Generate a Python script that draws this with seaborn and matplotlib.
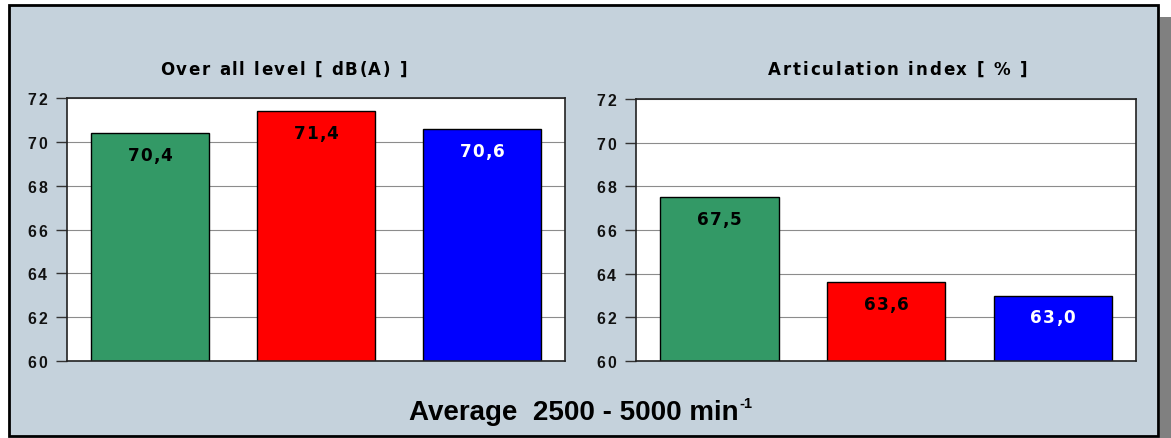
import matplotlib
matplotlib.use("Agg")
import matplotlib.pyplot as plt
from matplotlib.patches import Rectangle
import seaborn as sns
import pandas as pd

# Measured values per variant
variants = ["Variant 1", "Variant 2", "Variant 3"]
overall_level = [70.4, 71.4, 70.6]
articulation = [67.5, 63.6, 63.0]
bar_colors = ["#339966", "#FF0000", "#0000FF"]
label_colors = ["black", "black", "white"]
y_ticks = [60, 62, 64, 66, 68, 70, 72]
titles = ["Over all level [ dB(A) ]", "Articulation index [ % ]"]
footer = "Average  2500 - 5000 min"
footer_exp = "-1"

sns.set_theme(style="white")
plt.rcParams["font.family"] = ["Liberation Sans", "DejaVu Sans"]
for key in ("text.color", "axes.labelcolor", "xtick.color", "ytick.color"):
    plt.rcParams[key] = "black"

WIDE = ["DejaVu Sans"]
NARROW = ["Liberation Sans", "DejaVu Sans"]

W, H = 1171, 439
fig = plt.figure(figsize=(W / 100, H / 100), dpi=100)
fig.patch.set_facecolor("white")
renderer = fig.canvas.get_renderer()


def fx(px):
    return px / W


def fy(py):
    return 1 - py / H


def text_width(s, size, family):
    """Advance width in pixels of a bold string."""
    probe = fig.text(0, 0, s + "x", fontsize=size, fontweight="bold", family=family)
    ref = fig.text(0, 0, "x", fontsize=size, fontweight="bold", family=family)
    w = probe.get_window_extent(renderer).width - ref.get_window_extent(renderer).width
    probe.remove()
    ref.remove()
    return w


def spaced_text(s, x, y, size, spacing=0.0, width=None, ha="center",
                color="black", family=NARROW, zorder=5):
    """Draw bold text with letter spacing; x, y in pixels (y from top).
    If width is given, the spacing is chosen so the string spans that width."""
    widths = [text_width(ch, size, family) for ch in s]
    if width is not None:
        spacing = (width - sum(widths)) / (len(s) - 1)
    total = sum(widths) + spacing * (len(s) - 1)
    if ha == "center":
        left = x - total / 2
    elif ha == "right":
        left = x - total
    else:
        left = x
    cur = left
    for ch, w in zip(s, widths):
        if ch != " ":
            fig.text(fx(cur), fy(y), ch, fontsize=size, fontweight="bold",
                     family=family, ha="left", va="center_baseline",
                     color=color, zorder=zorder)
        cur += w + spacing


# drop shadow and framed panel background
fig.patches.append(Rectangle((fx(1160), fy(439)), fx(11), fy(18) - fy(439),
                             transform=fig.transFigure, facecolor="#808080",
                             edgecolor="none", zorder=0))
fig.patches.append(Rectangle((fx(9), fy(437)), fx(1158) - fx(9), fy(6) - fy(437),
                             transform=fig.transFigure, facecolor="#C5D2DC",
                             edgecolor="black", linewidth=2, zorder=1))

axes_boxes = [(67, 99, 565, 362), (636, 100, 1136, 362)]
title_boxes = [(160, 407), (768, 1027)]
datasets = [overall_level, articulation]

for (x0, y0, x1, y1), vals, title, (tl, tr) in zip(axes_boxes, datasets, titles, title_boxes):
    ax = fig.add_axes([fx(x0), fy(y1), fx(x1) - fx(x0), fy(y0) - fy(y1)])
    ax.set_zorder(2)
    df = pd.DataFrame({"variant": variants, "value": vals})
    sns.barplot(data=df, x="variant", y="value", hue="variant",
                palette=bar_colors, legend=False, width=0.71,
                edgecolor="black", linewidth=1.0, saturation=1, ax=ax)
    ax.set_facecolor("white")
    ax.set_ylim(60, 72)
    ax.set_xlim(-0.5, 2.5)
    ax.set_yticks(y_ticks)
    ax.set_yticklabels([])
    ax.set_xticks([])
    ax.set_xlabel("")
    ax.set_ylabel("")
    ax.yaxis.grid(True, color="#8c8c8c", linewidth=0.8)
    ax.set_axisbelow(True)
    ax.tick_params(axis="y", left=True, length=8, width=1, color="#333333")
    for s in ax.spines.values():
        s.set_color("#222222")
        s.set_linewidth(1.2)

    # tick labels and bar value labels, positioned from the data scale
    for t in y_ticks:
        _, py = ax.transData.transform((0, t))
        spaced_text(str(t), x0 - 20, H - py, 11.4, 1.8, ha="right", color="#111111")
    for i, (v, c) in enumerate(zip(vals, label_colors)):
        px, py = ax.transData.transform((i, v))
        spaced_text(f"{v:.1f}".replace(".", ","), px, H - py + 20, 12.2, 1.0,
                    color=c, family=WIDE)
    spaced_text(title, (tl + tr) / 2, 68, 12, width=tr - tl, family=WIDE)

# footer with superscript exponent
main = fig.text(fx(409), fy(410), footer, fontsize=20, fontweight="bold",
                ha="left", va="center_baseline", zorder=5)
bb = main.get_window_extent(renderer)
fig.text(fx(bb.x1 + 1), fy(403), footer_exp, fontsize=10.5, fontweight="bold",
         ha="left", va="center_baseline", zorder=5)

fig.savefig("out.png", dpi=100)
